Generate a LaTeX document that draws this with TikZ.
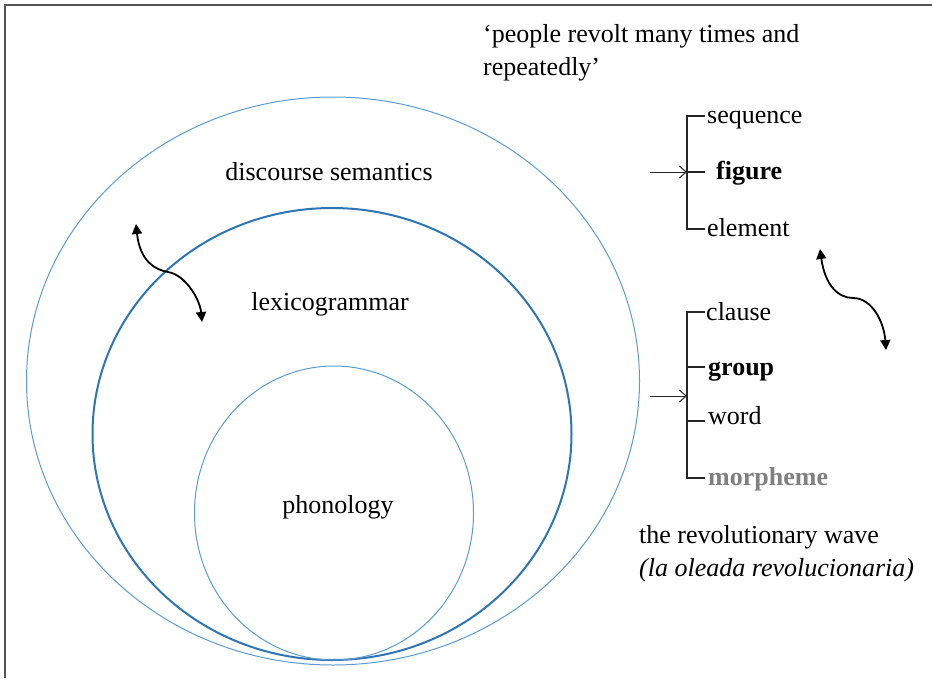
\documentclass[tikz,border=0pt]{standalone}
\usepackage{fontspec}
\setmainfont{Liberation Serif}
\usetikzlibrary{shapes.geometric,arrows.meta}
\definecolor{ringlight}{HTML}{5B9BD5}
\definecolor{ringdark}{HTML}{2E75B6}
\definecolor{framegray}{HTML}{555555}
\definecolor{morphgray}{HTML}{808080}
\tikzset{
  lbl/.style={inner sep=0pt, anchor=base west, font=\fontsize{26}{33}\selectfont},
  clbl/.style={inner sep=0pt, anchor=base, font=\fontsize{26}{33}\selectfont},
  ring/.style={ellipse, draw=ringlight, line width=1pt, inner sep=0pt, outer sep=0pt},
  ringthick/.style={ellipse, draw=ringdark, line width=2pt, inner sep=0pt, outer sep=0pt},
  tree/.style={draw=black!85, line width=1.2pt},
  ptr/.style={draw=black!85, line width=1pt, -{Straight Barb[length=7pt,width=12pt]}},
  wave/.style={draw=black, line width=1.8pt, {Triangle[length=10pt,width=10pt]}-{Triangle[length=10pt,width=10pt]}},
}
\begin{document}
\begin{tikzpicture}[x=1pt,y=-1pt]
\useasboundingbox (0,0) rectangle (932,678);
% frame
\draw[framegray, line width=1.8pt] (5,678) -- (5,5) -- (932,5);
% rings
\node[ring, minimum width=613pt, minimum height=568pt] (outer) at (333,381) {};
\node[ringthick, minimum width=479pt, minimum height=452pt] (mid) at (332,434) {};
\node[ring, minimum width=279pt, minimum height=294pt] (inner) at (334,513) {};
% ring labels
\node[clbl] (ds) at (329,180) {discourse semantics};
\node[clbl] (lg) at (330,310) {lexicogrammar};
\node[clbl] (ph) at (338,513) {phonology};
% top text
\node[lbl] (q1) at (483,42) {‘people revolt many times and};
\node[lbl] (q2) at (483,75) {repeatedly’};
% hierarchy 1
\coordinate (t1top) at (687,116);
\coordinate (t1bot) at (687,229);
\coordinate (t1mid) at (687,172);
\draw[tree] (705,116) -- (t1top) -- (t1bot) -- (705,229);
\draw[tree] (t1mid) -- (705,172);
\node[lbl] (seq) at (707,123) {sequence};
\node[lbl] (fig) at (716,179) {\bfseries figure};
\node[lbl] (el) at (707,236) {element};
\coordinate (a1) at (650,172);
\draw[ptr] (a1) -- (t1mid);
% hierarchy 2
\coordinate (t2top) at (687,312);
\coordinate (t2bot) at (687,478);
\coordinate (t2arr) at (687,396);
\draw[tree] (705,312) -- (t2top) -- (t2bot) -- (705,478);
\draw[tree] (687,367) -- (705,367);
\draw[tree] (687,421) -- (705,421);
\node[lbl] (cl) at (706,320) {clause};
\node[lbl] (gr) at (708,375) {\bfseries group};
\node[lbl] (wd) at (708,424) {word};
\node[lbl] (mo) at (708,485) {\bfseries\color{morphgray}morpheme};
\coordinate (a2) at (650,396);
\draw[ptr] (a2) -- (t2arr);
% bottom right text
\node[lbl] (rw) at (639,543) {the revolutionary wave};
\node[lbl] (lo) at (639,576) {\itshape (la oleada revolucionaria)};
% wavy arrows
\coordinate (w1a) at (136,224);
\coordinate (w1m) at (168,272);
\coordinate (w1b) at (202,322);
\draw[wave] (w1a) .. controls (140,262) and (156,270) .. (w1m) .. controls (186,275) and (200,300) .. (w1b);
\coordinate (w2a) at (820,249);
\coordinate (w2m) at (853,298);
\coordinate (w2b) at (886,350);
\draw[wave] (w2a) .. controls (825,285) and (838,298) .. (w2m) .. controls (872,298) and (884,322) .. (w2b);
\end{tikzpicture}
\end{document}
